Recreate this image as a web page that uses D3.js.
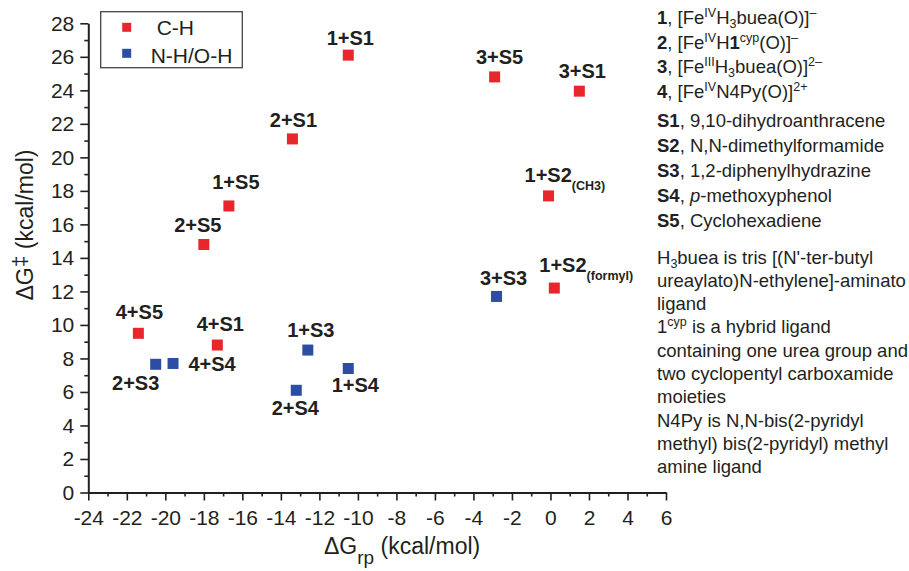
<!DOCTYPE html>
<meta charset="utf-8">
<head>
    <title>Activation barrier vs driving force</title>
    <script src="https://cdn.jsdelivr.net/npm/d3@7"></script>
    <style>
        body { margin: 0; background: #fff; }
        svg { display: block; font-family: Arial, "Liberation Sans", sans-serif; }
    </style>
</head>
<body>
<div id="chart"></div>
<script>
// data
var pairLabels = ["1+S1", "3+S5", "3+S1", "2+S1", "1+S2", "1+S5", "2+S5", "3+S3",
                  "1+S2", "4+S5", "4+S1", "4+S4", "2+S3", "1+S3", "1+S4", "2+S4"];
var pairSubs = ["", "", "", "", "(CH3)", "", "", "", "(formyl)", "", "", "", "", "", "", ""];
var bondType = ["C-H", "C-H", "C-H", "C-H", "C-H", "C-H", "C-H", "N-H/O-H",
                "C-H", "C-H", "C-H", "N-H/O-H", "N-H/O-H", "N-H/O-H", "N-H/O-H", "N-H/O-H"];
var dGrp = [-10.5, -2.9, 1.5, -13.4, -0.1, -16.7, -18.0, -2.8,
            0.2, -21.4, -17.3, -19.6, -20.5, -12.6, -10.5, -13.2];
var dGact = [26.1, 24.8, 23.95, 21.1, 17.7, 17.1, 14.8, 11.7,
             12.2, 9.5, 8.8, 7.7, 7.65, 8.5, 7.4, 6.1];
var seriesNames = ["C-H", "N-H/O-H"];
var xTicks = d3.range(-24, 7, 2);
var yTicks = d3.range(0, 29, 2);

// label placement relative to each marker (px): [dx, dy, anchor]
var labelPos = [[2, -10, "middle"], [5, -13, "middle"], [3, -13, "middle"], [1, -12, "middle"],
                [-24, -14, "start"], [7, -17, "middle"], [-6, -12, "middle"], [7, -11, "middle"],
                [-15, -16, "start"], [1, -14, "middle"], [3, -14, "middle"], [39, 8, "middle"],
                [-20, 26, "middle"], [3, -13, "middle"], [7, 24, "middle"], [-1, 25, "middle"]];

var w = 909, h = 571;
var ink = "#231f20";
var color = d3.scaleOrdinal().domain(seriesNames).range(["#e8262c", "#2c4da3"]);

var svg = d3.select("#chart").append("svg").attr("width", w).attr("height", h);

var x = d3.scaleLinear().domain([-24, 6]).range([88.3, 666]);
var y = d3.scaleLinear().domain([0, 28]).range([492.5, 23.3]);

// minor ticks
svg.append("g").attr("transform", "translate(0," + y(0) + ")")
    .call(d3.axisBottom(x).tickValues(d3.range(-23, 6, 2)).tickSize(4).tickFormat(""))
    .call(g => g.select(".domain").remove());
svg.append("g").attr("transform", "translate(" + x(-24) + ",0)")
    .call(d3.axisLeft(y).tickValues(d3.range(1, 28, 2)).tickSize(4).tickFormat(""))
    .call(g => g.select(".domain").remove());

// plain hyphen for negatives, as in the figure
var fmt = d => String(d);
var xAxis = svg.append("g").attr("transform", "translate(0," + y(0) + ")")
    .call(d3.axisBottom(x).tickValues(xTicks).tickFormat(fmt).tickSize(8).tickPadding(9.5).tickSizeOuter(0));
var yAxis = svg.append("g").attr("transform", "translate(" + x(-24) + ",0)")
    .call(d3.axisLeft(y).tickValues(yTicks).tickFormat(fmt).tickSize(8).tickPadding(6).tickSizeOuter(0));

svg.selectAll(".tick line").attr("stroke", ink).attr("stroke-width", 1.6);
svg.selectAll(".domain").attr("stroke", ink).attr("stroke-width", 2);
svg.selectAll(".tick text").attr("fill", ink).style("font-size", "21px")
    .style("font-family", "Arial, 'Liberation Sans', sans-serif");

// axis titles
var xt = svg.append("text").attr("x", 324).attr("y", 554).attr("fill", ink).style("font-size", "23px");
xt.append("tspan").text("\u0394G");
xt.append("tspan").attr("baseline-shift", "-10").style("font-size", "19px").text("rp");
xt.append("tspan").text(" (kcal/mol)");

var yt = svg.append("text").attr("transform", "translate(33,225) rotate(-90)")
    .attr("text-anchor", "middle").attr("fill", ink).style("font-size", "23px");
yt.append("tspan").text("\u0394G");
yt.append("tspan").attr("baseline-shift", "6").style("font-size", "21px").text("\u2021");
yt.append("tspan").text(" (kcal/mol)");

// markers
var ms = 11;
svg.append("g").selectAll("rect")
    .data(d3.range(dGrp.length))
    .enter().append("rect")
    .attr("x", i => x(dGrp[i]) - ms / 2)
    .attr("y", i => y(dGact[i]) - ms / 2)
    .attr("width", ms).attr("height", ms)
    .attr("fill", i => color(bondType[i]));

// point labels
var lab = svg.append("g").selectAll("text")
    .data(d3.range(pairLabels.length))
    .enter().append("text")
    .attr("x", i => x(dGrp[i]) + labelPos[i][0])
    .attr("y", i => y(dGact[i]) + labelPos[i][1])
    .attr("text-anchor", i => labelPos[i][2])
    .attr("fill", ink)
    .style("font-size", "20px").style("font-weight", "bold");
lab.append("tspan").text(i => pairLabels[i]);
lab.filter(i => pairSubs[i] !== "").append("tspan")
    .attr("baseline-shift", "-8").style("font-size", "12.5px").text(i => pairSubs[i]);

// legend
var leg = svg.append("g");
leg.append("rect").attr("x", 100.7).attr("y", 11.7).attr("width", 141.6).attr("height", 56)
    .attr("fill", "#fff").attr("stroke", "#444").attr("stroke-width", 1.3);
var legText = [[156.7, 35], [150.7, 63]];
seriesNames.forEach(function (s, i) {
    leg.append("rect").attr("x", 126.7 - 4.5).attr("y", (i ? 53.3 : 27.3) - 4.5)
        .attr("width", 9).attr("height", 9).attr("fill", color(s));
    leg.append("text").attr("x", legText[i][0]).attr("y", legText[i][1])
        .attr("fill", ink).style("font-size", "21px").text(s);
});

// side notes
var notesTop = [
    [["1", "b"], [", [Fe"], ["IV", "sup"], ["H"], ["3", "sub"], ["buea(O)]"], ["\u2013", "sup"]],
    [["2", "b"], [", [Fe"], ["IV", "sup"], ["H"], ["1", "b"], ["cyp", "sup"], ["(O)]"], ["\u2013", "sup"]],
    [["3", "b"], [", [Fe"], ["III", "sup"], ["H"], ["3", "sub"], ["buea(O)]"], ["2\u2013", "sup"]],
    [["4", "b"], [", [Fe"], ["IV", "sup"], ["N4Py(O)]"], ["2+", "sup"]]
];
var notesSub = [
    [["S1", "b"], [", 9,10-dihydroanthracene"]],
    [["S2", "b"], [", N,N-dimethylformamide"]],
    [["S3", "b"], [", 1,2-diphenylhydrazine"]],
    [["S4", "b"], [", "], ["p", "i"], ["-methoxyphenol"]],
    [["S5", "b"], [", Cyclohexadiene"]]
];
var notesPara = [
    [["H"], ["3", "sub"], ["buea is tris [(N'-ter-butyl"]],
    [["ureaylato)N-ethylene]-aminato"]],
    [["ligand"]],
    [["1"], ["cyp", "sup"], [" is a hybrid ligand"]],
    [["containing one urea group and"]],
    [["two cyclopentyl carboxamide"]],
    [["moieties"]],
    [["N4Py is N,N-bis(2-pyridyl"]],
    [["methyl) bis(2-pyridyl) methyl"]],
    [["amine ligand"]]
];

function writeLine(parts, yy) {
    var t = svg.append("text").attr("x", 657).attr("y", yy).attr("fill", ink).style("font-size", "18.5px");
    parts.forEach(function (p) {
        var sp = t.append("tspan").text(p[0]);
        if (p[1] === "b") sp.style("font-weight", "bold");
        if (p[1] === "i") sp.style("font-style", "italic");
        if (p[1] === "sup") sp.attr("baseline-shift", "7").style("font-size", "12.5px");
        if (p[1] === "sub") sp.attr("baseline-shift", "-4").style("font-size", "12.5px");
    });
}
notesTop.forEach((l, i) => writeLine(l, 24 + i * 24.5));
notesSub.forEach((l, i) => writeLine(l, 127 + i * 25));
notesPara.forEach((l, i) => writeLine(l, 263.5 + i * 23.3));
</script>
</body>
